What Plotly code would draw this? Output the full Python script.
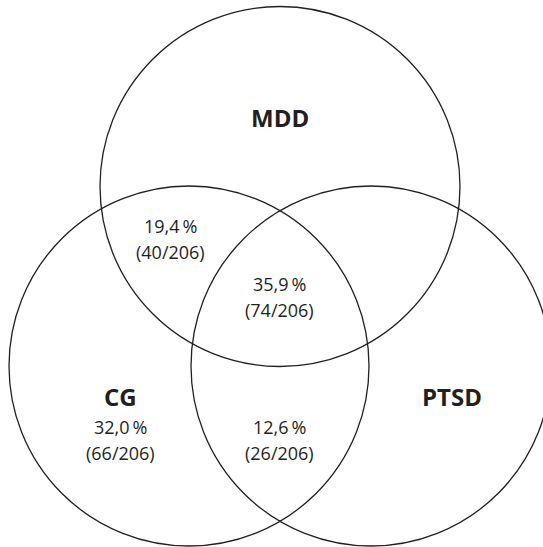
import plotly.graph_objects as go

# ---- data ----
set_labels = ["MDD", "CG", "PTSD"]
region_names = ["MDD∩CG", "MDD∩CG∩PTSD", "CG only", "CG∩PTSD"]
region_counts = [40, 74, 66, 26]
total_n = 206

# ---- layout constants (pixel space of a 543x547 canvas) ----
W, H = 543, 547
R = 180
circle_centers = {"MDD": (280, 186.5), "CG": (189, 366), "PTSD": (371, 366)}
set_label_pos = {"MDD": (280, 117), "CG": (120, 396), "PTSD": (452, 396)}
region_pos = {
    "MDD∩CG": (170, 226),
    "MDD∩CG∩PTSD": (279, 284),
    "CG only": (120, 427),
    "CG∩PTSD": (279, 427),
}
LINE_GAP = 26
ink = "#231f20"
num_font = dict(family="Open Sans", size=18, color=ink)
lab_font = dict(family="Open Sans", size=24, color=ink)

fig = go.Figure()
fig.add_trace(go.Scatter(x=[0, W], y=[0, H], mode="markers",
                         marker=dict(opacity=0), hoverinfo="skip", showlegend=False))

shapes = []
for name in set_labels:
    cx, cy = circle_centers[name]
    shapes.append(dict(type="circle", xref="x", yref="y",
                       x0=cx - R, x1=cx + R, y0=cy - R, y1=cy + R,
                       line=dict(color=ink, width=1.3), fillcolor="rgba(0,0,0,0)"))

annotations = []
for name in set_labels:
    x, y = set_label_pos[name]
    annotations.append(dict(x=x, y=y, xref="x", yref="y", text=f"<b>{name}</b>",
                            showarrow=False, font=lab_font,
                            xanchor="center", yanchor="middle"))

for name, cnt in zip(region_names, region_counts):
    x, y = region_pos[name]
    pct = f"{100 * cnt / total_n:.1f}".replace(".", ",") + "\u2009%"
    annotations.append(dict(x=x, y=y, xref="x", yref="y", text=pct,
                            showarrow=False, font=num_font,
                            xanchor="center", yanchor="middle"))
    annotations.append(dict(x=x, y=y + LINE_GAP, xref="x", yref="y",
                            text=f"({cnt}/{total_n})",
                            showarrow=False, font=num_font,
                            xanchor="center", yanchor="middle"))

fig.update_layout(
    width=W, height=H,
    margin=dict(l=0, r=0, t=0, b=0),
    paper_bgcolor="white", plot_bgcolor="white",
    xaxis=dict(range=[0, W], visible=False, fixedrange=True),
    yaxis=dict(range=[H, 0], visible=False, fixedrange=True),
    shapes=shapes, annotations=annotations,
    showlegend=False,
)

fig.write_html("out.html", config={"displayModeBar": False},
               post_script="document.body.style.margin='0';document.body.style.overflow='hidden';")
